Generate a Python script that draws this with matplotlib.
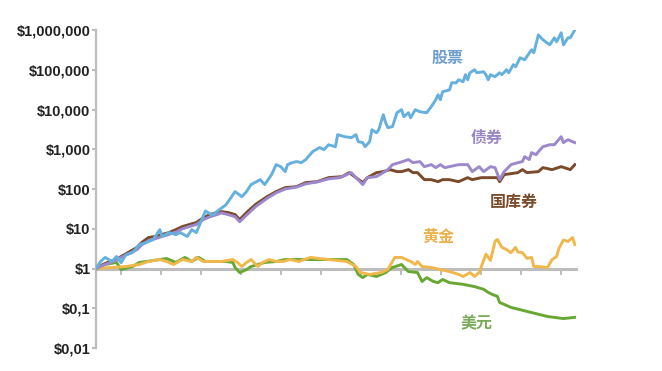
import numpy as np
import matplotlib
matplotlib.use("Agg")
import matplotlib.pyplot as plt
from matplotlib.ticker import FixedLocator, NullFormatter

stock_years = [1802, 1804, 1806, 1809, 1811, 1813, 1815, 1818, 1821, 1824, 1827, 1830, 1831,
               1834, 1837, 1839, 1842, 1844, 1846, 1848, 1850, 1853, 1856, 1859, 1863, 1866,
               1868, 1870, 1874, 1876, 1879, 1881, 1883, 1885, 1886, 1888, 1890, 1892, 1894,
               1897, 1900, 1902, 1904, 1907, 1908, 1911, 1914, 1916, 1917, 1919, 1920, 1922,
               1923, 1925, 1926, 1928, 1929, 1930, 1932, 1934, 1936, 1937, 1939, 1940, 1942,
               1944, 1947, 1949, 1951, 1952, 1953, 1954, 1957, 1958, 1960, 1961, 1963, 1964,
               1965, 1966, 1968, 1969, 1972, 1973, 1974, 1975, 1977, 1979, 1980, 1982, 1983,
               1985, 1986, 1988, 1990, 1993, 1994, 1996, 1998, 2001, 2003, 2004, 2006, 2007,
               2009, 2010, 2012]
stocks = [1.0, 1.5, 1.9, 1.5, 2.0, 1.4, 2.2, 2.5, 4.0, 4.5, 5.3, 9.5, 6.4,
          8.0, 7.1, 8.0, 6.4, 9.5, 8.0, 15, 28, 22, 30, 40, 86, 64,
          86, 129, 172, 129, 230, 410, 365, 274, 410, 460, 490, 460, 550,
          870, 1100, 980, 1300, 1160, 2330, 2070, 1960, 2330, 1550, 1470, 1160, 1550,
          3100, 2600, 3100, 7400, 4700, 3500, 3700, 8300, 9900, 6600, 8300, 6200, 9900,
          8800, 8300, 11700, 17600, 23500, 17600, 28000, 31000, 47000, 47000, 56000, 50000, 75000,
          56000, 84000, 100000, 84000, 89000, 75000, 56000, 75000, 67000, 84000, 75000, 100000, 84000,
          134000, 119000, 200000, 178000, 318000, 267000, 757000, 567000, 425000, 637000, 505000, 851000, 425000,
          637000, 637000, 1010000]

bond_years = [1802, 1805, 1808, 1811, 1813, 1816, 1820, 1822, 1825, 1828, 1831, 1834, 1837,
              1840, 1843, 1846, 1849, 1852, 1855, 1857, 1860, 1863, 1865, 1868, 1872, 1877,
              1881, 1885, 1890, 1894, 1899, 1904, 1909, 1912, 1914, 1916, 1919, 1921, 1925,
              1928, 1930, 1932, 1935, 1939, 1941, 1944, 1946, 1949, 1951, 1953, 1955, 1957,
              1961, 1965, 1967, 1970, 1972, 1975, 1977, 1979, 1981, 1984, 1987, 1989, 1990,
              1992, 1993, 1995, 1996, 1998, 2001, 2003, 2006, 2007, 2009, 2011, 2012]
bonds = [1.0, 1.2, 1.4, 1.6, 1.9, 2.3, 3.0, 3.9, 5.0, 5.6, 6.4, 7.2, 8.3,
         10, 11.4, 12.8, 17, 20, 22.7, 25, 22.7, 20, 15, 22, 36, 58,
         80, 100, 112, 135, 150, 180, 193, 230, 258, 193, 129, 193, 205,
         258, 307, 410, 460, 550, 460, 490, 365, 410, 345, 410, 345, 365,
         410, 410, 274, 365, 274, 365, 345, 172, 274, 410, 460, 490, 650,
         550, 820, 730, 870, 1160, 1300, 1300, 2070, 1470, 1740, 1550, 1470]

bill_years = [1802, 1805, 1808, 1811, 1813, 1816, 1820, 1822, 1825, 1828, 1831, 1834, 1837,
              1840, 1843, 1846, 1849, 1852, 1855, 1857, 1860, 1863, 1865, 1868, 1872, 1877,
              1881, 1885, 1890, 1894, 1899, 1904, 1910, 1913, 1919, 1921, 1925, 1928, 1931,
              1934, 1936, 1939, 1941, 1943, 1946, 1949, 1952, 1954, 1957, 1961, 1965, 1967,
              1971, 1975, 1978, 1979, 1981, 1987, 1989, 1991, 1996, 1998, 2002, 2006, 2010, 2012]
bills = [1.0, 1.26, 1.5, 1.68, 2.0, 2.5, 3.4, 4.5, 6.0, 6.4, 7.2, 8.0, 9.5,
         11.4, 12.8, 14.3, 19, 22.7, 25.5, 27, 25.5, 22.7, 17, 25.5, 41, 64,
         86, 108, 115, 145, 153, 193, 205, 258, 145, 193, 258, 274, 307,
         274, 274, 307, 258, 258, 172, 172, 153, 172, 172, 153, 193, 172,
         193, 193, 193, 153, 230, 258, 307, 258, 274, 345, 307, 365, 307, 410]

gold_years = [1802, 1809, 1815, 1821, 1825, 1830, 1833, 1836, 1840, 1844, 1846, 1849, 1853,
              1857, 1862, 1864, 1866, 1868, 1870, 1873, 1875, 1878, 1881, 1884, 1887, 1891,
              1896, 1900, 1904, 1912, 1916, 1918, 1922, 1927, 1930, 1933, 1936, 1940, 1942,
              1943, 1945, 1949, 1953, 1957, 1961, 1963, 1966, 1968, 1970, 1972, 1973, 1975,
              1977, 1978, 1980, 1982, 1984, 1986, 1987, 1989, 1991, 1993, 1994, 1997, 1999,
              2000, 2002, 2004, 2005, 2007, 2009, 2011, 2012]
gold = [1.0, 1.06, 1.12, 1.26, 1.5, 1.68, 1.5, 1.26, 1.68, 1.5, 1.9, 1.5, 1.5,
        1.5, 1.68, 1.42, 1.12, 1.42, 1.68, 1.12, 1.42, 1.68, 1.5, 1.5, 1.68, 1.5,
        1.9, 1.78, 1.68, 1.5, 1.12, 0.79, 0.71, 0.79, 0.94, 1.9, 1.9, 1.5, 1.26,
        1.5, 1.12, 1.06, 0.94, 0.84, 0.71, 0.63, 0.79, 0.63, 0.79, 1.6, 2.3, 1.6,
        4.8, 5.4, 3.4, 3.0, 2.5, 3.4, 2.6, 2.5, 1.8, 1.9, 1.12, 1.12, 1.06,
        1.06, 1.68, 2.0, 3.2, 5.2, 4.8, 6.0, 4.0]

dollar_years = [1802, 1806, 1811, 1813, 1818, 1821, 1824, 1830, 1833, 1837, 1841, 1844, 1847,
                1850, 1855, 1859, 1862, 1863, 1865, 1868, 1870, 1873, 1876, 1881, 1885, 1890,
                1894, 1900, 1904, 1912, 1915, 1917, 1919, 1921, 1925, 1929, 1932, 1936, 1939,
                1943, 1945, 1947, 1950, 1952, 1954, 1957, 1963, 1968, 1972, 1974, 1976, 1978,
                1979, 1984, 1993, 2000, 2007, 2012]
dollar = [1.0, 1.26, 1.42, 0.94, 1.12, 1.42, 1.5, 1.68, 1.78, 1.42, 1.9, 1.5, 1.9,
          1.5, 1.5, 1.5, 1.42, 1.06, 0.79, 0.94, 1.12, 1.26, 1.42, 1.5, 1.68, 1.68,
          1.68, 1.68, 1.68, 1.68, 1.26, 0.71, 0.59, 0.71, 0.63, 0.79, 1.06, 1.26, 0.84,
          0.79, 0.47, 0.59, 0.47, 0.44, 0.53, 0.44, 0.40, 0.35, 0.30, 0.25, 0.22, 0.20,
          0.14, 0.105, 0.078, 0.062, 0.055, 0.059]

ytick_vals = [0.01, 0.1, 1, 10, 100, 1000, 10000, 100000, 1000000]
ytick_labels = ["$0,01", "$0,1", "$1", "$10", "$100", "$1,000", "$10,000", "$100,000", "$1,000,000"]

c_stock = "#66b0de"
c_bond = "#9c88cb"
c_bill = "#7b4a2a"
c_gold = "#f0b84c"
c_dollar = "#68a832"
axis_grey = "#bdbdbd"

fig = plt.figure(figsize=(6.62, 3.71), dpi=100)
ax = fig.add_axes([96 / 662, 23 / 371, 480 / 662, 318 / 371])

lw = 2.1
ax.plot(dollar_years, dollar, color=c_dollar, lw=lw, zorder=3)
ax.plot(gold_years, gold, color=c_gold, lw=lw, zorder=4)
ax.plot(bill_years, bills, color=c_bill, lw=lw, zorder=5)
ax.plot(bond_years, bonds, color=c_bond, lw=lw, zorder=6)
ax.plot(stock_years, stocks, color=c_stock, lw=lw, zorder=7)

ax.set_yscale("log")
ax.set_ylim(0.01, 1000000)
ax.set_xlim(1802, 2012.5)

ax.yaxis.set_major_locator(FixedLocator(ytick_vals))
ax.set_yticklabels(ytick_labels)
ax.yaxis.set_minor_formatter(NullFormatter())
ax.tick_params(axis="y", which="minor", length=0)
ax.tick_params(axis="y", which="major", length=3, width=1.5, color=axis_grey, pad=1,
               labelsize=10.5, labelcolor="#222222")
for lab in ax.get_yticklabels():
    lab.set_fontfamily("Liberation Sans")
    lab.set_fontweight("bold")

# x axis runs along the $1 line, ticks without labels
ax.spines["bottom"].set_position(("data", 1))
ax.spines["bottom"].set_color(axis_grey)
ax.spines["bottom"].set_linewidth(2.2)
ax.spines["bottom"].set_zorder(2)
ax.spines["left"].set_color(axis_grey)
ax.spines["left"].set_linewidth(1.6)
ax.spines["top"].set_visible(False)
ax.spines["right"].set_visible(False)
ax.set_xticks(1813 + 17.54 * np.arange(12))
ax.set_xticklabels([])
ax.tick_params(axis="x", length=4, width=1.5, color=axis_grey)

cjk = ["Noto Sans CJK SC", "DejaVu Sans"]
lab_kw = dict(fontsize=11.5, fontweight="bold", family=cjk, ha="center", va="center")
ax.text(1956, 200000, "股票", color="#6f9fcf", **lab_kw)
ax.text(1973.5, 1900, "债券", color="#9a87c6", **lab_kw)
ax.text(1985, 47, "国库券", color="#7a4b2c", **lab_kw)
ax.text(1952, 6.2, "黄金", color="#ebb24f", **lab_kw)
ax.text(1969, 0.043, "美元", color="#7aab5c", **lab_kw)

fig.savefig("out.png", dpi=100)
